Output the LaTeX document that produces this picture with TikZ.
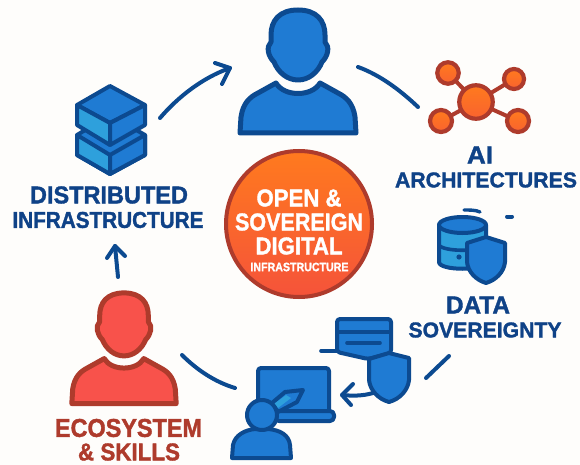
\documentclass[tikz,border=0pt]{standalone}
\usepackage{graphicx}
\usepackage{fontspec}
\setmainfont{Liberation Sans}[BoldFeatures={FakeBold=1.5}]
\usetikzlibrary{arrows.meta}
\definecolor{bgc}{HTML}{FEFDFB}
\definecolor{navy}{HTML}{0C4A90}
\definecolor{bluef}{HTML}{1F7BD3}
\definecolor{cyanf}{HTML}{2EA0DC}
\definecolor{labelblue}{HTML}{0F4287}
\definecolor{brick}{HTML}{AE3B2C}
\definecolor{redf}{HTML}{F8524B}
\definecolor{orangea}{HTML}{FF7A1E}
\definecolor{orangeb}{HTML}{F5533A}
\tikzset{
  x=1pt,y=-1pt,
  icon/.style={draw=navy,fill=bluef,line width=4pt,line join=round},
  iconc/.style={icon,fill=cyanf},
  link/.style={draw=navy,line width=4pt,line cap=round,line join=round},
  netline/.style={draw=brick,line width=4pt},
  netnode/.style={circle,draw=brick,line width=4.2pt,top color=orangea,bottom color=orangeb!60!orangea,inner sep=0pt},
  lbl/.style={inner sep=0pt,outer sep=0pt,text=labelblue,font=\bfseries},
  person/.pic={
    \path[pic actions] (-58,124) -- (-57,108) .. controls (-55,94) and (-48,88) .. (-40,84)
      -- (-22,74) .. controls (-14,88) and (14,88) .. (22,74) -- (40,84)
      .. controls (48,88) and (55,94) .. (57,108) -- (58,124) -- cycle;
    \path[pic actions] (0,1) .. controls (-19,1) and (-27,12) .. (-27,26) -- (-27,33)
      .. controls (-32,38) and (-30,47) .. (-24,53)
      .. controls (-20,63) and (-11,71) .. (0,71)
      .. controls (11,71) and (20,63) .. (24,53)
      .. controls (30,47) and (32,38) .. (27,33) -- (27,26)
      .. controls (27,12) and (19,1) .. (0,1) -- cycle;
  }
}
\begin{document}
\begin{tikzpicture}
\path[use as bounding box,fill=bgc] (0,0) rectangle (580,465);

% persons
\pic[icon,line width=5pt] at (298,9) {person};
\pic[icon,draw=brick,fill=redf,scale=0.9,line width=5pt] at (124,292) {person};

% cubes
\draw[icon] (77,135) -- (110,115) -- (145,135) -- (145,155) -- (110,174) -- (77,155) -- cycle;
\draw[iconc] (77,135) -- (110,155) -- (110,174) -- (77,155) -- cycle;
\draw[icon] (110,155) -- (145,135) -- (145,155) -- (110,174) -- cycle;
\draw[icon] (110,86) -- (145,105) -- (110,123) -- (77,105) -- cycle;
\draw[iconc] (77,105) -- (110,123) -- (110,145) -- (77,125) -- cycle;
\draw[icon] (110,123) -- (145,105) -- (145,125) -- (110,145) -- cycle;

% network icon
\coordinate (hub) at (476,102);
\foreach \a/\b in {448/73,514/79,441/121,518/121} \draw[netline] (hub) -- (\a,\b);
\node[netnode,minimum size=33.5pt] (nc) at (hub) {};
\node[netnode,minimum size=21.5pt] (n1) at (448,73) {};
\node[netnode,minimum size=20pt] (n2) at (514,79) {};
\node[netnode,minimum size=22pt] (n3) at (441,121) {};
\node[netnode,minimum size=22pt] (n4) at (518,121) {};

% database + shield
\draw[iconc] (439,225) -- (439,262) .. controls (439,271) and (486,271) .. (486,262) -- (486,225) -- cycle;
\draw[draw=navy,line width=3.6pt] (439,245) .. controls (443,252) and (482,252) .. (486,245);
\draw[icon] (462.5,225) ellipse (23.5 and 8);
\fill[navy] (459,257) circle (2.6);
\draw[icon] (486,237) -- (505,243) -- (505,262) .. controls (504,272) and (496,280) .. (486,283)
  .. controls (476,280) and (468,272) .. (467,262) -- (467,243) -- cycle;
\draw[link,line width=3.4pt] (464,210) .. controls (470,210) and (476,210) .. (480,212);
\draw[link,line width=4pt] (507,216.5) -- (512,216.5);

% card + shield
\coordinate (cardtick) at (321,351);
\coordinate (cardleft) at (337,351);
\draw[link,line width=3.6pt] (cardtick) -- (cardleft);
\draw[icon,rounded corners=3pt] (337,319) -- (391,319) -- (391,353) -- (368,359) -- (337,352) -- cycle;
\draw[link,line width=3.6pt,line cap=butt] (337,332) -- (391,332);
\draw[link,line width=3.6pt] (347,343) -- (380,343);
\draw[icon] (389,353) -- (409,358) -- (409,380) .. controls (408,390) and (400,399) .. (389,402)
  .. controls (378,399) and (370,390) .. (369,380) -- (369,359) -- cycle;

% laptop + person
\draw[icon,rounded corners=3pt] (258,368) -- (329,368) -- (329,414) -- (258,414) -- cycle;
\draw[icon,rounded corners=4pt] (275,411) -- (334,411) -- (334,421) -- (275,421) -- cycle;
\draw[icon] (272,403) -- (285,392) -- (303,390) -- (297,402) -- (278,412) -- cycle;
\fill[cyanf] (274,404) -- (286,395) -- (291,398) -- (278,408) -- cycle;
\draw[icon] (232,458) -- (233,445) .. controls (235,435) and (245,430) .. (255,429) -- (268,429)
  .. controls (280,430) and (289,435) .. (290,445) -- (291,458) -- cycle;
\draw[icon] (262,415) circle (15);

% connectors
\coordinate (a1s) at (160,118); \coordinate (a1e) at (230,68);
\draw[link] (a1s) .. controls (178,97) and (202,78) .. (a1e);
\draw[link] (215,63) -- (a1e) -- (222,84);
\coordinate (a2s) at (358,67); \coordinate (a2e) at (418,107);
\draw[link] (a2s) .. controls (380,75) and (400,90) .. (a2e);
\coordinate (a3s) at (426,378); \coordinate (a3e) at (449,356);
\draw[link] (a3s) -- (a3e);
\coordinate (a4s) at (373,393); \coordinate (a4e) at (342,395);
\draw[link] (a4s) .. controls (363,396) and (352,396) .. (a4e);
\draw[link] (353,384) -- (a4e) -- (351,405);
\coordinate (a5s) at (235,388); \coordinate (a5e) at (182,355);
\draw[link] (a5s) .. controls (215,382) and (197,370) .. (a5e);
\coordinate (a6s) at (118,277); \coordinate (a6e) at (115,246);
\draw[link] (a6s) -- (a6e);
\draw[link] (107,258) -- (a6e) -- (125,256);

% central circle
\node[circle,draw=brick,line width=4pt,top color=orangea,bottom color=orangeb,minimum size=146pt,inner sep=0pt] (hubcircle) at (299,224) {};
\tikzset{wl/.style={lbl,text=white}}
\node[wl] (c1) at (299,198) {\resizebox{85pt}{17pt}{OPEN \&}};
\node[wl] (c2) at (299,222) {\resizebox{128pt}{17pt}{SOVEREIGN}};
\node[wl] (c3) at (299,246) {\resizebox{87pt}{17pt}{DIGITAL}};
\node[wl] (c4) at (299.5,267) {\resizebox{98pt}{8.5pt}{INFRASTRUCTURE}};

% labels
\node[lbl] (l1) at (109,195) {\resizebox{158pt}{17pt}{DISTRIBUTED}};
\node[lbl] (l2) at (108,220) {\resizebox{191pt}{16pt}{INFRASTRUCTURE}};
\node[lbl] (l3) at (480,155) {\resizebox{26pt}{17pt}{AI}};
\node[lbl] (l4) at (486,180) {\resizebox{182pt}{15pt}{ARCHITECTURES}};
\node[lbl] (l5) at (478,305) {\resizebox{64pt}{17pt}{DATA}};
\node[lbl] (l6) at (485,330) {\resizebox{153pt}{15pt}{SOVEREIGNTY}};
\node[lbl,text=brick] (l7) at (128.5,428) {\resizebox{147pt}{18pt}{ECOSYSTEM}};
\node[lbl,text=brick] (l8) at (129,452) {\resizebox{102pt}{17pt}{\& SKILLS}};
\end{tikzpicture}
\end{document}
